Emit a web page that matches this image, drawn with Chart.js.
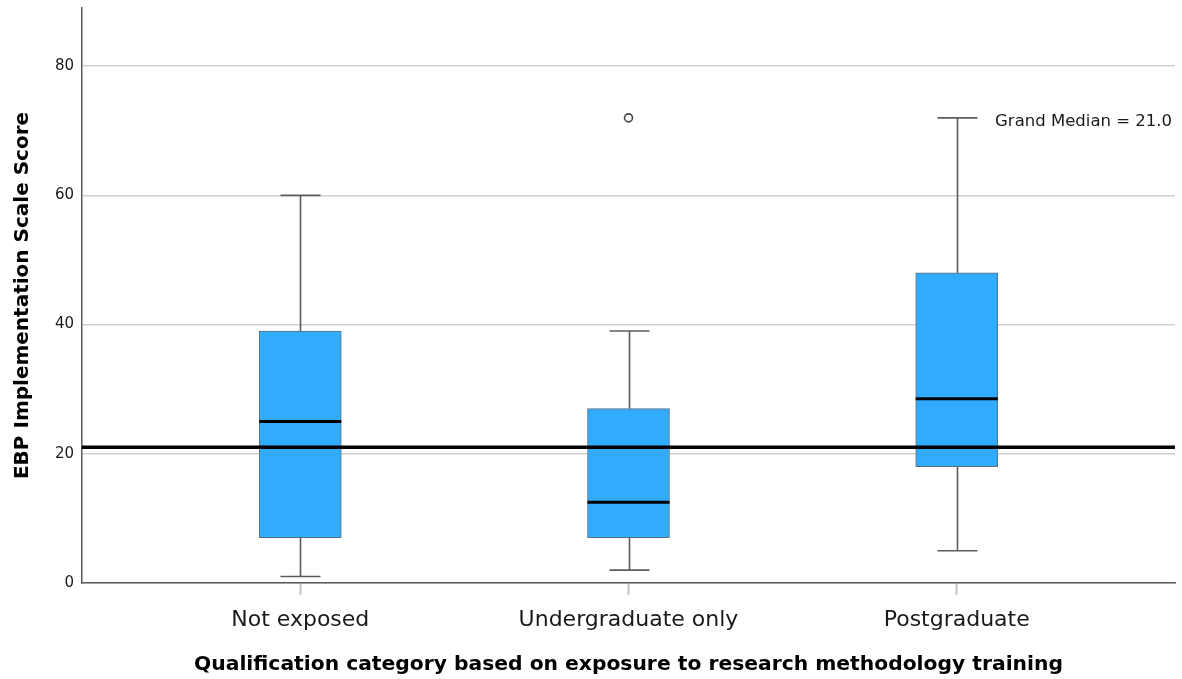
<!DOCTYPE html>
<html>
<head>
<meta charset="utf-8">
<script src="https://cdn.jsdelivr.net/npm/chart.js@4/dist/chart.umd.min.js"></script>
<style>
  html, body { margin: 0; padding: 0; background: #ffffff; }
  #wrap { width: 1182px; height: 679px; position: relative; }
</style>
</head>
<body>
<div id="wrap"><canvas id="c" width="1182" height="679"></canvas></div>
<script>
// ---- data ----
const categories = ['Not exposed', 'Undergraduate only', 'Postgraduate'];
const whiskerLow = [1, 2, 5];
const q1 = [7, 7, 18];
const medians = [25, 12.5, 28.5];
const q3 = [39, 27, 48];
const whiskerHigh = [60, 39, 72];
const outlierCategory = [1];
const outlierValue = [72];
const grandMedian = 21.0;
const yTicks = [0, 20, 40, 60, 80];
const yTitle = 'EBP Implementation Scale Score';
const xTitle = 'Qualification category based on exposure to research methodology training';
const grandMedianLabel = 'Grand Median = 21.0';

const FONT = "'DejaVu Sans', sans-serif";
const X_MIN = -0.665, X_MAX = 2.665;

const boxData = categories.map((c, i) => ({ x: i, y: [q1[i], q3[i]] }));
const outlierData = outlierCategory.map((c, i) => ({ x: c, y: outlierValue[i] }));

const boxPlugin = {
  id: 'boxExtras',
  beforeDatasetsDraw(chart) {
    const ctx = chart.ctx, xs = chart.scales.x, ys = chart.scales.y;
    ctx.save();
    ctx.strokeStyle = '#5c5c5c';
    ctx.lineWidth = 1.6;
    categories.forEach((c, i) => {
      const px = Math.round(xs.getPixelForValue(i)) + 0.5;
      const capHalf = 20;
      ctx.beginPath();
      ctx.moveTo(px, ys.getPixelForValue(q1[i]));
      ctx.lineTo(px, ys.getPixelForValue(whiskerLow[i]));
      ctx.stroke();
      ctx.beginPath();
      ctx.moveTo(px - capHalf, ys.getPixelForValue(whiskerLow[i]));
      ctx.lineTo(px + capHalf, ys.getPixelForValue(whiskerLow[i]));
      ctx.stroke();
      ctx.beginPath();
      ctx.moveTo(px, ys.getPixelForValue(q3[i]));
      ctx.lineTo(px, ys.getPixelForValue(whiskerHigh[i]));
      ctx.stroke();
      ctx.beginPath();
      ctx.moveTo(px - capHalf, ys.getPixelForValue(whiskerHigh[i]));
      ctx.lineTo(px + capHalf, ys.getPixelForValue(whiskerHigh[i]));
      ctx.stroke();
    });
    ctx.restore();
  },
  afterDatasetDraw(chart, args) {
    if (args.index !== 0) return;
    const ctx = chart.ctx, xs = chart.scales.x, ys = chart.scales.y;
    ctx.save();
    ctx.strokeStyle = '#000000';
    ctx.lineWidth = 3;
    categories.forEach((c, i) => {
      const px = xs.getPixelForValue(i);
      const py = ys.getPixelForValue(medians[i]);
      ctx.beginPath();
      ctx.moveTo(px - 41, py);
      ctx.lineTo(px + 41, py);
      ctx.stroke();
    });
    ctx.restore();
  },
  afterDraw(chart) {
    const ctx = chart.ctx, a = chart.chartArea;
    ctx.save();
    ctx.font = '16.5px ' + FONT;
    ctx.fillStyle = '#1a1a1a';
    ctx.textAlign = 'right';
    ctx.textBaseline = 'middle';
    ctx.fillText(grandMedianLabel, a.right - 3, a.top + 114);
    ctx.restore();
  }
};

new Chart(document.getElementById('c'), {
  data: {
    datasets: [
      {
        type: 'bar',
        label: 'box',
        data: boxData,
        backgroundColor: '#31ABFE',
        borderColor: '#5f6f7a',
        borderWidth: 1,
        borderSkipped: false,
        barThickness: 82,
        order: 3
      },
      {
        type: 'scatter',
        label: 'outlier',
        data: outlierData,
        pointStyle: 'circle',
        pointRadius: 4,
        backgroundColor: '#ffffff',
        borderColor: '#444444',
        borderWidth: 1.6,
        order: 2
      },
      {
        type: 'line',
        label: 'grand median',
        data: [{ x: X_MIN, y: grandMedian }, { x: X_MAX, y: grandMedian }],
        borderColor: '#000000',
        borderWidth: 3.5,
        pointRadius: 0,
        fill: false,
        order: 1
      }
    ]
  },
  options: {
    responsive: false,
    animation: false,
    layout: { padding: { top: 8, right: 7, left: 0, bottom: 0 } },
    plugins: {
      legend: { display: false },
      tooltip: { enabled: false },
      title: { display: false }
    },
    scales: {
      x: {
        type: 'linear',
        offset: false,
        min: X_MIN,
        max: X_MAX,
        afterBuildTicks(scale) { scale.ticks = categories.map((c, i) => ({ value: i })); },
        afterFit(scale) { scale.height = 96; scale.paddingLeft = 0; scale.paddingRight = 0; },
        ticks: {
          autoSkip: false,
          maxRotation: 0,
          padding: 12,
          color: '#1a1a1a',
          font: { family: FONT, size: 22 },
          callback: (v) => categories[v]
        },
        grid: {
          offset: false,
          drawOnChartArea: false,
          drawTicks: true,
          tickLength: 12,
          tickColor: '#c4c4c4',
          tickWidth: 2
        },
        border: { display: true, color: '#5a5a5a', width: 1.5 },
        title: {
          display: true,
          text: xTitle,
          color: '#000000',
          font: { family: FONT, size: 20.3, weight: 'bold' },
          padding: { top: 10, bottom: 2 }
        }
      },
      y: {
        type: 'linear',
        min: 0,
        max: 89,
        afterBuildTicks(scale) { scale.ticks = yTicks.map(v => ({ value: v })); },
        afterFit(scale) { scale.width = 82; scale.paddingTop = 0; scale.paddingBottom = 0; },
        ticks: {
          color: '#1a1a1a',
          padding: 8,
          font: { family: FONT, size: 15 }
        },
        grid: {
          color: '#cfcfcf',
          lineWidth: 1.5,
          drawTicks: false
        },
        border: { display: true, color: '#5a5a5a', width: 1.5 },
        title: {
          display: true,
          text: yTitle,
          color: '#000000',
          font: { family: FONT, size: 20, weight: 'bold' },
          padding: { top: 11, bottom: 0 }
        }
      }
    }
  },
  plugins: [boxPlugin]
});
</script>
</body>
</html>
